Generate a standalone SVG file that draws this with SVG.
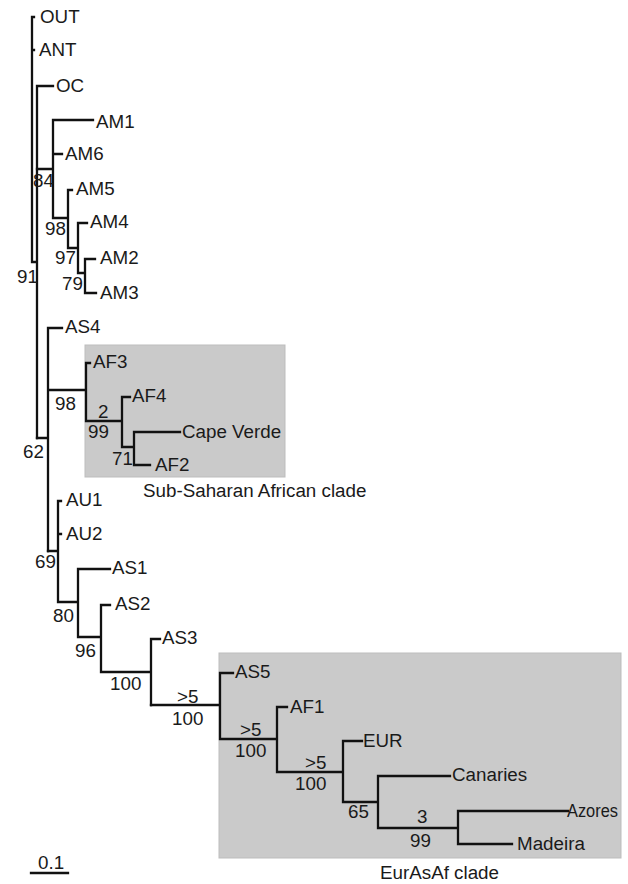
<svg xmlns="http://www.w3.org/2000/svg" width="628" height="884" viewBox="0 0 628 884">
<style>
text{font-family:"Liberation Sans",Arial,Helvetica,sans-serif;font-size:18.8px;fill:#1a1a1a}
.br{fill:none;stroke:#111;stroke-width:2.3;stroke-linecap:square}
.box{fill:#cacaca;stroke:#bdbdbd;stroke-width:1}
</style>
<rect width="628" height="884" fill="#fff"/>
<g id="clades">
<rect class="box" x="85" y="345" width="200" height="132"/>
<rect class="box" x="219" y="653" width="402" height="205"/>
<text x="143" y="497">Sub-Saharan African clade</text>
<text x="380" y="879">EurAsAf clade</text>
</g>
<g id="connectors">
<path class="br" d="M32,17V262M32,17H34M32,50H34M32,262H37M37,86V438M37,86H53"/>
<path class="br" d="M37,169H53M53,120V218M53,120H93M53,154H62M53,218H68M68,190V248M68,190H72M68,248H78M78,223V273M78,223H87M78,273H85M85,259V293M85,259H95M85,293H96"/>
<path class="br" d="M37,438H48M48,328V551M48,328H62M48,390H86M86,363V421M86,363H90M86,421H122M122,397V447M122,397H130M122,447H134M134,432V465M134,432H180M134,465H150"/>
<path class="br" d="M48,551H58M58,501V602M58,501H61M58,534H61M58,602H78M78,569V637M78,569H110M78,637H101M101,605V672M101,605H110M101,672H151M151,639V705M151,639H160"/>
<path class="br" d="M151,705H220M220,673V739M220,673H233M220,739H277M277,707V772M277,707H287M277,772H343M343,741V802M343,741H362M343,802H378M378,776V828M378,776H450M378,828H458M458,811V844M458,811H568M458,844H512"/>
<path class="br" d="M31,873H68"/>
</g>
<g id="leaf-OUT"><text x="40" y="22.5">OUT</text></g>
<g id="leaf-ANT"><text x="39" y="55.5">ANT</text></g>
<g id="leaf-OC"><text x="56" y="92">OC</text></g>
<g id="leaf-AM1"><text x="96" y="128">AM1</text></g>
<g id="leaf-AM6"><text x="65" y="159.5">AM6</text></g>
<g id="leaf-AM5"><text x="76" y="195">AM5</text></g>
<g id="leaf-AM4"><text x="90" y="228">AM4</text></g>
<g id="leaf-AM2"><text x="100" y="264">AM2</text></g>
<g id="leaf-AM3"><text x="100" y="298.5">AM3</text></g>
<g id="leaf-AS4"><text x="65" y="333">AS4</text></g>
<g id="leaf-AF3"><text x="93" y="368">AF3</text></g>
<g id="leaf-AF4"><text x="132" y="402">AF4</text></g>
<g id="leaf-CapeVerde"><text x="182" y="437.5">Cape Verde</text></g>
<g id="leaf-AF2"><text x="155" y="470.5">AF2</text></g>
<g id="leaf-AU1"><text x="66" y="506">AU1</text></g>
<g id="leaf-AU2"><text x="66" y="539.5">AU2</text></g>
<g id="leaf-AS1"><text x="112" y="574">AS1</text></g>
<g id="leaf-AS2"><text x="115" y="610">AS2</text></g>
<g id="leaf-AS3"><text x="162" y="644">AS3</text></g>
<g id="leaf-AS5"><text x="235" y="678">AS5</text></g>
<g id="leaf-AF1"><text x="290" y="713">AF1</text></g>
<g id="leaf-EUR"><text x="363" y="746.5">EUR</text></g>
<g id="leaf-Canaries"><text x="452" y="781">Canaries</text></g>
<g id="leaf-Azores"><text x="567" y="817" textLength="51" lengthAdjust="spacingAndGlyphs">Azores</text></g>
<g id="leaf-Madeira"><text x="517" y="850">Madeira</text></g>
<g id="node-91"><text x="17" y="283">91</text></g>
<g id="node-84"><text x="33" y="187">84</text></g>
<g id="node-98a"><text x="45" y="235">98</text></g>
<g id="node-97"><text x="55" y="264">97</text></g>
<g id="node-79"><text x="62" y="290">79</text></g>
<g id="node-62"><text x="23" y="458">62</text></g>
<g id="node-98b"><text x="55" y="410">98</text></g>
<g id="node-99a"><text x="98" y="418">2</text><text x="88" y="438">99</text></g>
<g id="node-71"><text x="112" y="465">71</text></g>
<g id="node-69"><text x="35" y="568">69</text></g>
<g id="node-80"><text x="53" y="622">80</text></g>
<g id="node-96"><text x="75" y="657">96</text></g>
<g id="node-100a"><text x="110" y="690">100</text></g>
<g id="node-100b"><text x="177" y="703">&gt;5</text><text x="172" y="725">100</text></g>
<g id="node-100c"><text x="240" y="736">&gt;5</text><text x="235" y="757">100</text></g>
<g id="node-100d"><text x="305" y="769">&gt;5</text><text x="295" y="790">100</text></g>
<g id="node-65"><text x="348" y="818">65</text></g>
<g id="node-99b"><text x="417" y="823">3</text><text x="410" y="847">99</text></g>
<g id="scale"><text x="38" y="869">0.1</text></g>
</svg>
